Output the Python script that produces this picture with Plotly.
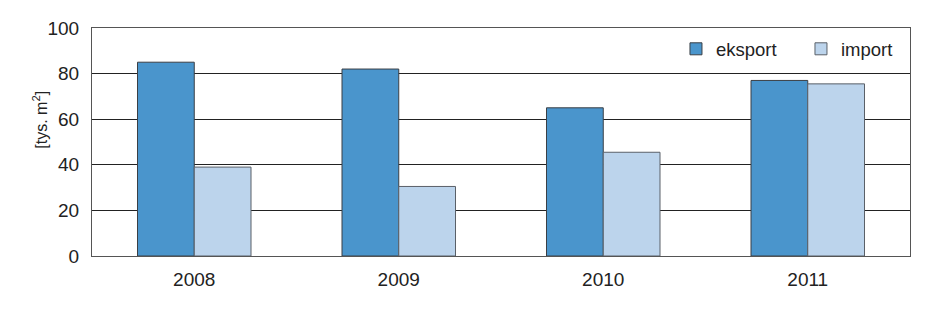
import plotly.graph_objects as go

years = ["2008", "2009", "2010", "2011"]
eksport = [85, 82, 65, 77]
imp = [39, 30.5, 45.5, 75.5]
y_ticks = [0, 20, 40, 60, 80, 100]

FONT = "Liberation Sans, Arial, sans-serif"

fig = go.Figure()
fig.add_trace(go.Bar(name="eksport", x=years, y=eksport,
                     marker=dict(color="#4a95cc", line=dict(color="#3a3f45", width=1))))
fig.add_trace(go.Bar(name="import", x=years, y=imp,
                     marker=dict(color="#bcd4ec", line=dict(color="#5a6068", width=1))))

fig.update_layout(
    width=938, height=317,
    margin=dict(l=92, r=28, t=28, b=61),
    paper_bgcolor="white", plot_bgcolor="white",
    barmode="group", bargap=0.445, bargroupgap=0,
    font=dict(family=FONT, size=18, color="#222"),
    legend=dict(orientation="h", x=0.7139, xanchor="left", y=0.99, yanchor="top",
                font=dict(size=18.5), bgcolor="rgba(0,0,0,0)", itemwidth=30,
                entrywidth=80, entrywidthmode="pixels", borderwidth=0,
                traceorder="normal"),
    xaxis=dict(showgrid=False, showline=True, linecolor="#555", linewidth=1, mirror=True,
               ticks="", tickfont=dict(size=19), ticklabelstandoff=6),
    yaxis=dict(range=[0, 100], tickvals=y_ticks, showgrid=True, gridcolor="#222", gridwidth=1,
               showline=True, linecolor="#555", linewidth=1, mirror=True, ticks="",
               zeroline=False, tickfont=dict(size=19), ticklabelstandoff=8),
    annotations=[dict(text="[tys. m<sup>2</sup>]", textangle=-90, showarrow=False,
                      xref="paper", yref="paper", x=-0.063, y=0.6,
                      xanchor="center", yanchor="middle", font=dict(size=16))],
)

fig.write_html("out.html")
